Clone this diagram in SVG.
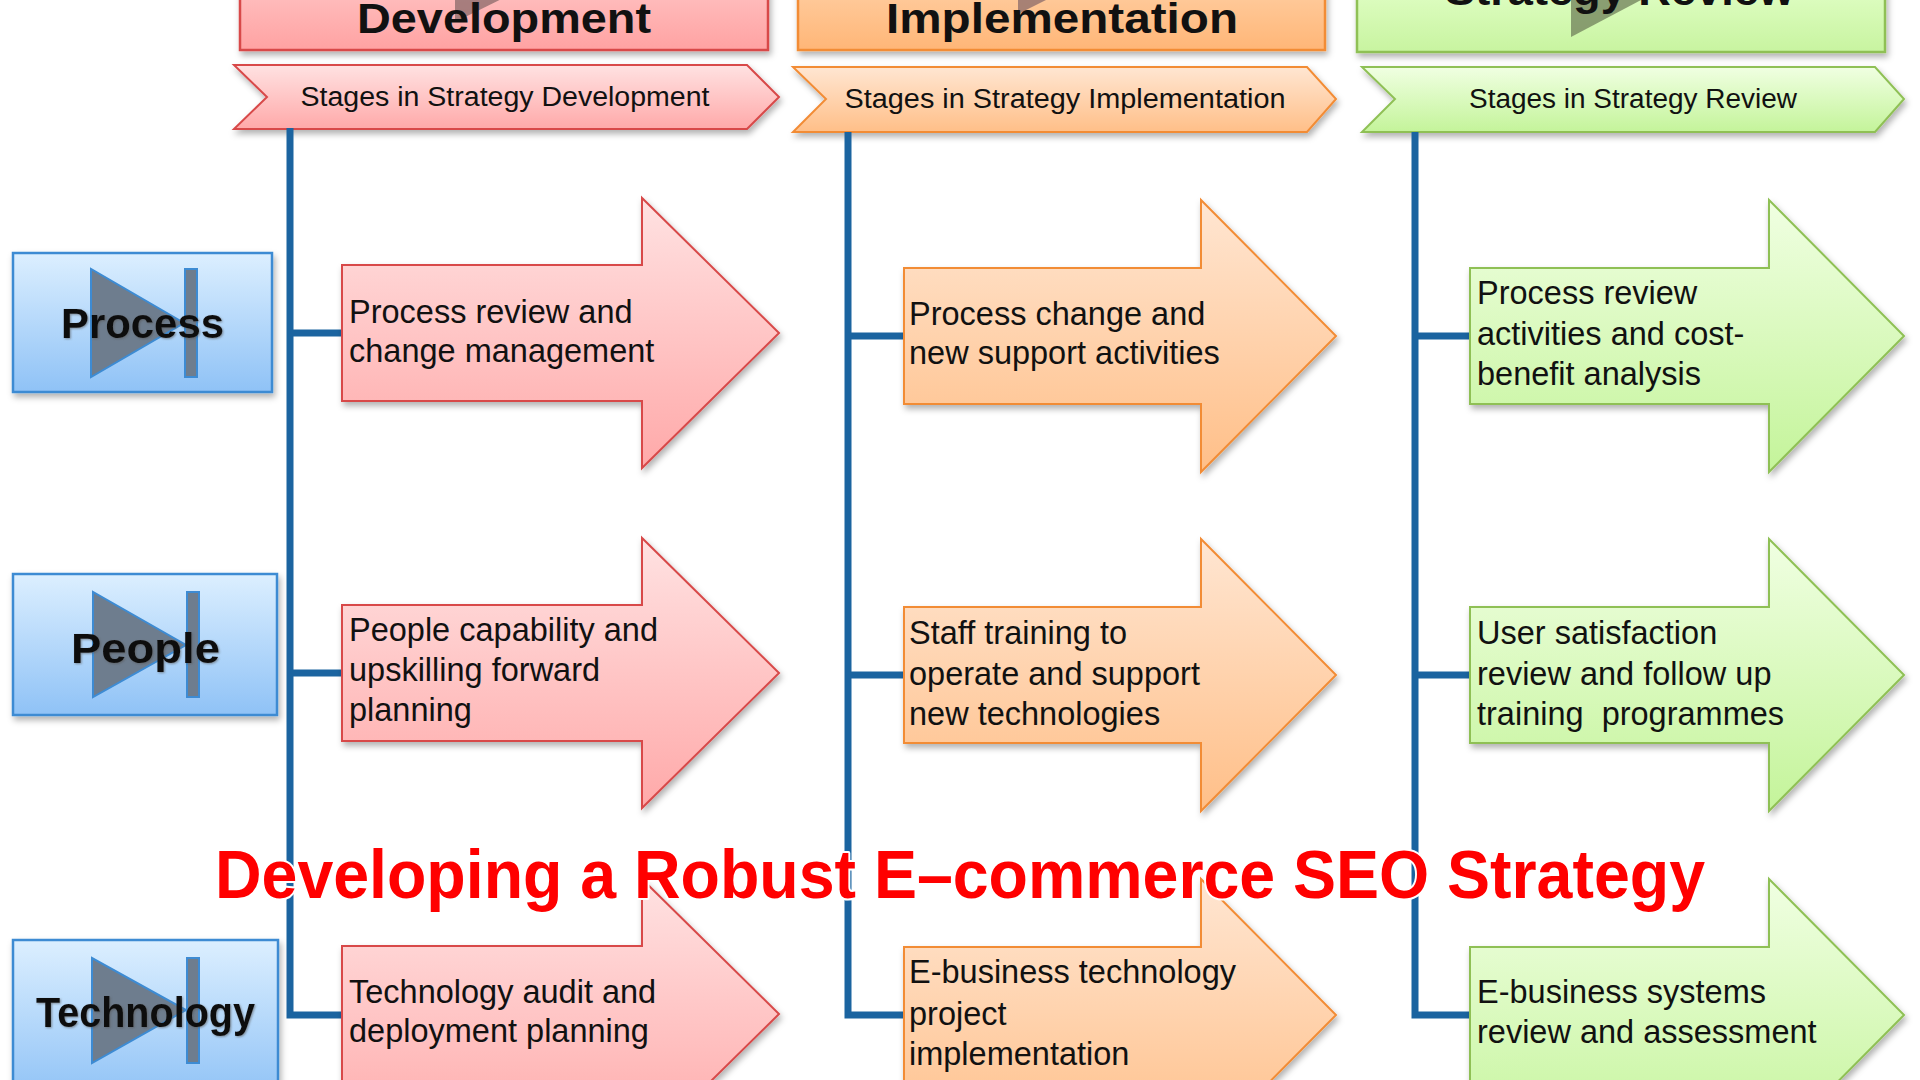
<svg xmlns="http://www.w3.org/2000/svg" width="1920" height="1080" viewBox="0 0 1920 1080">
<defs>
<linearGradient id="gRed" x1="0" y1="0" x2="0" y2="1"><stop offset="0" stop-color="#ffe2e2"/><stop offset="1" stop-color="#ffa9a9"/></linearGradient>
<linearGradient id="gOra" x1="0" y1="0" x2="0" y2="1"><stop offset="0" stop-color="#ffe6d2"/><stop offset="1" stop-color="#ffbf88"/></linearGradient>
<linearGradient id="gGrn" x1="0" y1="0" x2="0" y2="1"><stop offset="0" stop-color="#f0ffe2"/><stop offset="1" stop-color="#c4f49a"/></linearGradient>
<linearGradient id="gRedH" x1="0" y1="0" x2="0" y2="1"><stop offset="0" stop-color="#ffc4c4"/><stop offset="1" stop-color="#ffa2a2"/></linearGradient>
<linearGradient id="gOraH" x1="0" y1="0" x2="0" y2="1"><stop offset="0" stop-color="#ffcfa4"/><stop offset="1" stop-color="#ffb677"/></linearGradient>
<linearGradient id="gGrnH" x1="0" y1="0" x2="0" y2="1"><stop offset="0" stop-color="#e2ffc8"/><stop offset="1" stop-color="#c8f4a0"/></linearGradient>
<linearGradient id="gBlue" x1="0" y1="0" x2="0" y2="1"><stop offset="0" stop-color="#dcefff"/><stop offset="1" stop-color="#8fc2f6"/></linearGradient>
<filter id="sh" x="-10%" y="-10%" width="125%" height="130%"><feDropShadow dx="2" dy="4" stdDeviation="3" flood-color="#000" flood-opacity="0.3"/></filter>
<filter id="tsh" x="-10%" y="-20%" width="120%" height="150%"><feDropShadow dx="1" dy="1" stdDeviation="1" flood-color="#555" flood-opacity="0.6"/></filter>
</defs>
<style>
.red{fill:url(#gRed);stroke:#d84a4a;stroke-width:2}
.ora{fill:url(#gOra);stroke:#f28c36;stroke-width:2}
.grn{fill:url(#gGrn);stroke:#8fc055;stroke-width:2}
.redH{fill:url(#gRedH);stroke:#d84a4a;stroke-width:2.5}
.oraH{fill:url(#gOraH);stroke:#f28c36;stroke-width:2.5}
.grnH{fill:url(#gGrnH);stroke:#8fc055;stroke-width:2.5}
.blue{fill:url(#gBlue);stroke:#3d8bd3;stroke-width:2.5}
.ico{fill:#6e7d8e;stroke:#3d8bd3;stroke-width:2}
.hico{fill:#8a6a6a;opacity:0.75}
.sh{filter:url(#sh)}
.conn{fill:none;stroke:#1b64a0;stroke-width:7}
.txt{font-family:"Liberation Sans",Arial,sans-serif;font-size:32.5px;fill:#111}
.ban{font-family:"Liberation Sans",Arial,sans-serif;font-size:27px;fill:#111;text-anchor:middle}
.hdr{font-family:"Liberation Sans",Arial,sans-serif;font-weight:bold;font-size:42px;fill:#111}
.lbl{font-family:"Liberation Sans",Arial,sans-serif;font-weight:bold;font-size:43px;fill:#111;filter:url(#tsh)}
.title{font-family:"Liberation Sans",Arial,sans-serif;font-weight:bold;font-size:68px;fill:#ff0000;stroke:#ffffff;stroke-width:4;paint-order:stroke;stroke-linejoin:round}
</style>
<rect width="1920" height="1080" fill="#ffffff"/>

<g id="hdr-dev">
<rect class="redH sh" x="240" y="-20" width="528" height="70"/>
<polygon class="hico" points="455,-60 455,22 540,-20"/>
<text class="hdr" x="357" y="33" textLength="294" lengthAdjust="spacingAndGlyphs">Development</text>
</g>
<g id="hdr-impl">
<rect class="oraH sh" x="798" y="-20" width="527" height="70"/>
<polygon class="hico" points="1018,-60 1018,14 1090,-22"/>
<text class="hdr" x="886" y="33" textLength="352" lengthAdjust="spacingAndGlyphs">Implementation</text>
</g>
<g id="hdr-rev">
<rect class="grnH sh" x="1357" y="-20" width="528" height="72"/>
<polygon class="hico" points="1571,-60 1571,37 1660,-10" style="fill:#6f7f5a"/>
<text class="hdr" x="1445" y="5" textLength="349" lengthAdjust="spacingAndGlyphs">Strategy Review</text>
</g>

<g id="ban-dev">
<polygon class="red sh" points="234,65 747,65 779,97 747,129 234,129 267,97"/>
<text class="ban" x="505" y="106" textLength="409" lengthAdjust="spacingAndGlyphs">Stages in Strategy Development</text>
</g>
<g id="ban-impl">
<polygon class="ora sh" points="793,67 1307,67 1336,99 1307,132 793,132 826,99"/>
<text class="ban" x="1065" y="108" textLength="441" lengthAdjust="spacingAndGlyphs">Stages in Strategy Implementation</text>
</g>
<g id="ban-rev">
<polygon class="grn sh" points="1362,67 1875,67 1904,99 1875,132 1362,132 1395,99"/>
<text class="ban" x="1633" y="108" textLength="328" lengthAdjust="spacingAndGlyphs">Stages in Strategy Review</text>
</g>

<g id="connectors">
<path class="conn" d="M290 128 V1015 H342"/>
<path class="conn" d="M290 333 H342 M290 673 H342"/>
<path class="conn" d="M848 132 V1015 H904"/>
<path class="conn" d="M848 336 H904 M848 675 H904"/>
<path class="conn" d="M1415 132 V1015 H1470"/>
<path class="conn" d="M1415 336 H1470 M1415 675 H1470"/>
</g>

<g id="lbl-process">
<rect class="blue sh" x="13" y="253" width="259" height="139"/>
<polygon class="ico" points="91,269 91,377 184,323"/>
<rect class="ico" x="185" y="269" width="12" height="108"/>
<text class="lbl" x="61" y="338" textLength="163" lengthAdjust="spacingAndGlyphs">Process</text>
</g>
<g id="lbl-people">
<rect class="blue sh" x="13" y="574" width="264" height="141"/>
<polygon class="ico" points="93,592 93,697 186,645"/>
<rect class="ico" x="187" y="592" width="12" height="105"/>
<text class="lbl" x="71" y="663" textLength="149" lengthAdjust="spacingAndGlyphs">People</text>
</g>
<g id="lbl-tech">
<rect class="blue sh" x="13" y="940" width="265" height="160"/>
<polygon class="ico" points="92,958 92,1063 186,1010"/>
<rect class="ico" x="187" y="958" width="12" height="105"/>
<text class="lbl" x="36" y="1027" textLength="219" lengthAdjust="spacingAndGlyphs">Technology</text>
</g>

<g id="dev-1">
<path class="red sh" d="M342 265 H642 V198 L779 333 L642 468 V401 H342 Z"/>
<text class="txt"><tspan x="349" y="323">Process review and</tspan><tspan x="349" y="362">change management</tspan></text>
</g>
<g id="dev-2">
<path class="red sh" d="M342 605 H642 V538 L779 673 L642 808 V741 H342 Z"/>
<text class="txt"><tspan x="349" y="641">People capability and</tspan><tspan x="349" y="681">upskilling forward</tspan><tspan x="349" y="721">planning</tspan></text>
</g>
<g id="dev-3">
<path class="red sh" d="M342 946 H642 V879 L779 1014 L642 1149 V1082 H342 Z"/>
<text class="txt"><tspan x="349" y="1003">Technology audit and</tspan><tspan x="349" y="1042">deployment planning</tspan></text>
</g>

<g id="impl-1">
<path class="ora sh" d="M904 268 H1201 V200 L1336 336 L1201 472 V404 H904 Z"/>
<text class="txt"><tspan x="909" y="325">Process change and</tspan><tspan x="909" y="364">new support activities</tspan></text>
</g>
<g id="impl-2">
<path class="ora sh" d="M904 607 H1201 V539 L1336 675 L1201 811 V743 H904 Z"/>
<text class="txt"><tspan x="909" y="644">Staff training to</tspan><tspan x="909" y="685">operate and support</tspan><tspan x="909" y="725">new technologies</tspan></text>
</g>
<g id="impl-3">
<path class="ora sh" d="M904 947 H1201 V879 L1336 1015 L1201 1151 V1083 H904 Z"/>
<text class="txt"><tspan x="909" y="983">E-business technology</tspan><tspan x="909" y="1025">project</tspan><tspan x="909" y="1065">implementation</tspan></text>
</g>

<g id="rev-1">
<path class="grn sh" d="M1470 268 H1769 V200 L1904 336 L1769 472 V404 H1470 Z"/>
<text class="txt"><tspan x="1477" y="304">Process review</tspan><tspan x="1477" y="345">activities and cost-</tspan><tspan x="1477" y="385">benefit analysis</tspan></text>
</g>
<g id="rev-2">
<path class="grn sh" d="M1470 607 H1769 V539 L1904 675 L1769 811 V743 H1470 Z"/>
<text class="txt"><tspan x="1477" y="644">User satisfaction</tspan><tspan x="1477" y="685">review and follow up</tspan><tspan x="1477" y="725" xml:space="preserve">training  programmes</tspan></text>
</g>
<g id="rev-3">
<path class="grn sh" d="M1470 947 H1769 V879 L1904 1015 L1769 1151 V1083 H1470 Z"/>
<text class="txt"><tspan x="1477" y="1003">E-business systems</tspan><tspan x="1477" y="1043">review and assessment</tspan></text>
</g>

<g id="title">
<text class="title" x="215" y="898" textLength="1490" lengthAdjust="spacingAndGlyphs">Developing a Robust E–commerce SEO Strategy</text>
</g>
</svg>
